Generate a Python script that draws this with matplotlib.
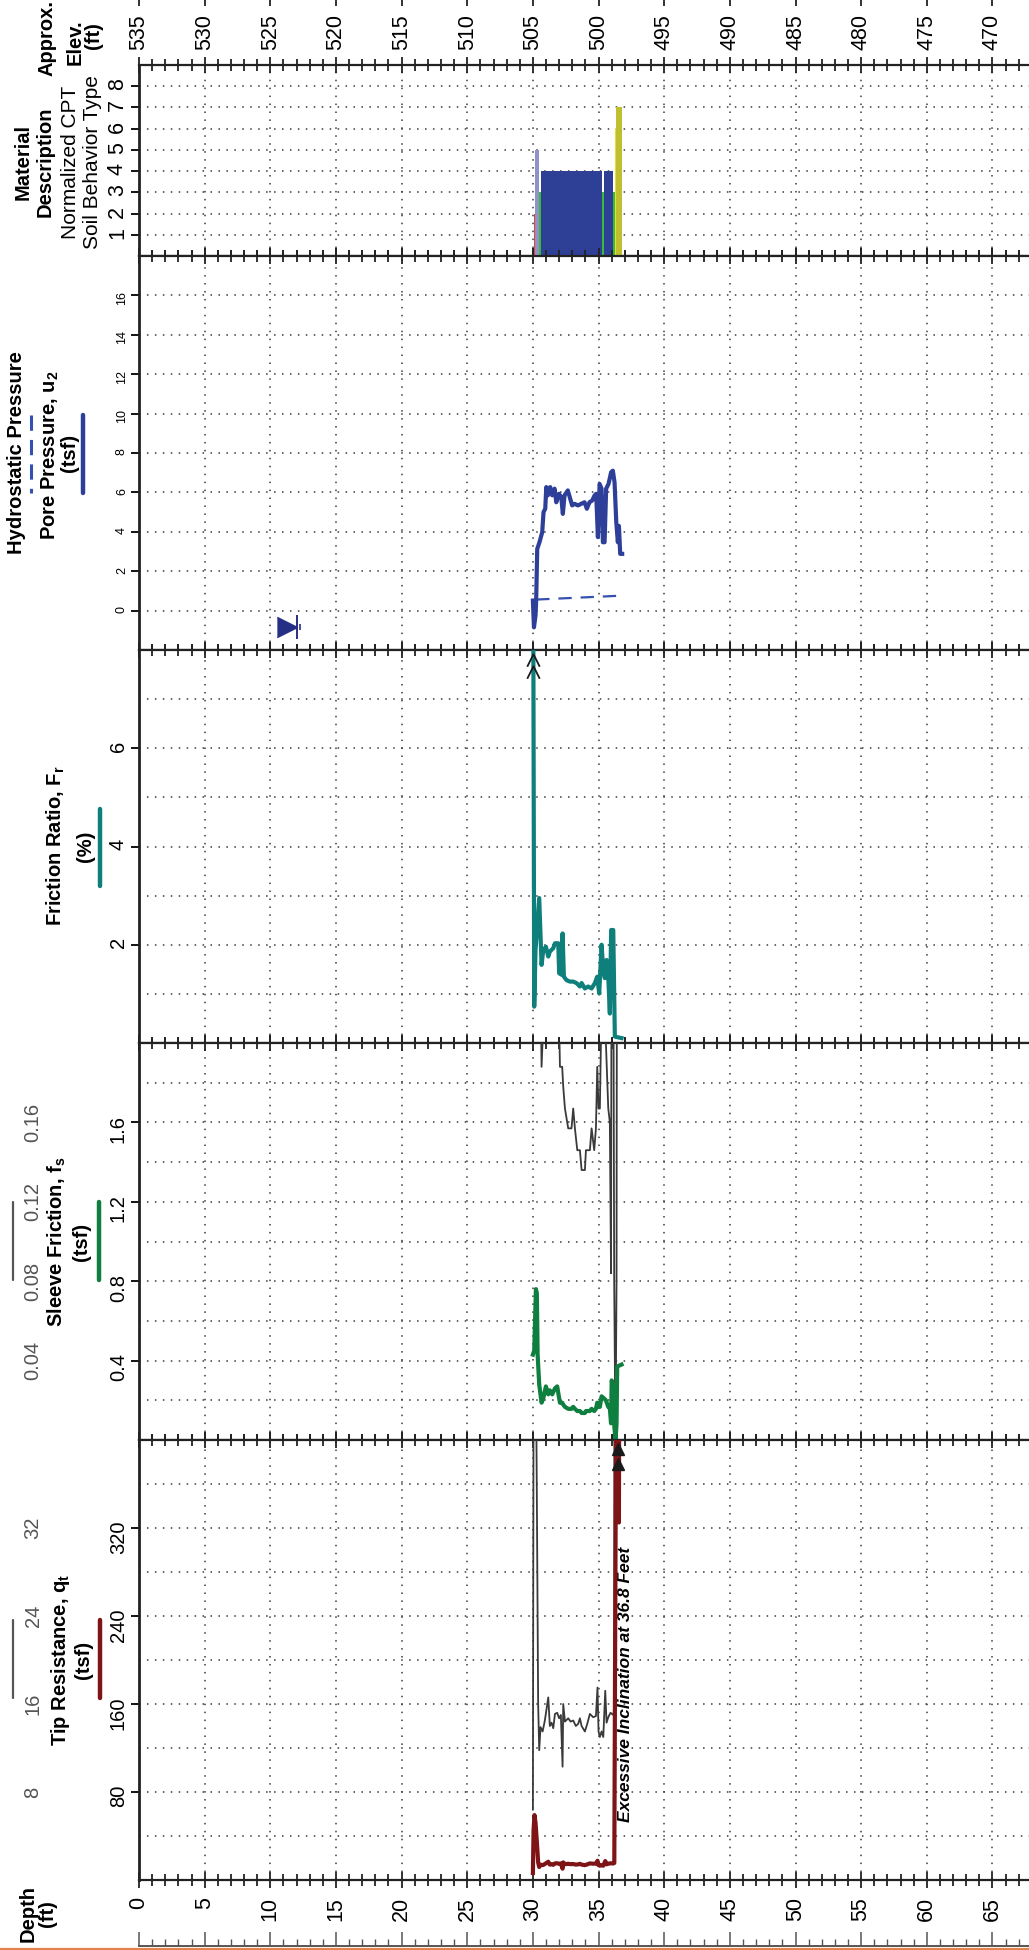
import matplotlib
matplotlib.use("Agg")
import matplotlib.pyplot as plt
from matplotlib.lines import Line2D
from matplotlib.ticker import MultipleLocator, FixedLocator
import matplotlib.transforms as mtransforms

plt.rcParams['font.family'] = ['Liberation Sans', 'DejaVu Sans']
plt.rcParams['mathtext.fontset'] = 'custom'
plt.rcParams['mathtext.rm'] = 'Liberation Sans'
plt.rcParams['mathtext.bf'] = 'Liberation Sans:bold'
plt.rcParams['mathtext.it'] = 'Liberation Sans:italic'

# ---- CPT sounding data (depth in ft) ----
ground_elev = 535
elev_ticks = [535, 530, 525, 520, 515, 510, 505, 500, 495, 490, 485, 480, 475, 470]
depth_ticks = [0, 5, 10, 15, 20, 25, 30, 35, 40, 45, 50, 55, 60, 65]

tip_depth = [30.00, 30.05, 30.12, 30.20, 30.30, 30.40, 30.48, 30.58, 30.74, 30.91,
             31.17, 31.29, 31.42, 31.55, 31.68, 31.85, 32.00, 32.13, 32.26, 32.31,
             32.44, 32.69, 32.87, 33.07, 33.27, 33.45, 33.58, 33.71, 33.96, 34.14,
             34.34, 34.59, 34.80, 34.92, 35.00, 35.10, 35.23, 35.36, 35.51, 35.61,
             35.74, 35.91, 36.12, 36.20, 36.35, 36.52, 36.55, 36.58, 36.80]
tip_qt = [6.4, 45.0, 59.0, 52.0, 35.0, 16.0, 11.8, 13.9, 13.5, 14.5,
          16.6, 14.0, 14.3, 13.8, 15.1, 15.2, 14.7, 15.0, 10.3, 16.0,
          14.4, 14.7, 14.4, 14.5, 14.0, 14.2, 14.7, 14.0, 13.5, 14.2,
          15.1, 14.8, 14.9, 17.5, 13.5, 13.0, 13.5, 13.0, 17.2, 14.3,
          14.8, 15.2, 15.0, 15.5, 480.0, 480.0, 325.0, 480.0, 480.0]

fs_depth = [30.00, 30.10, 30.23, 30.30, 30.36, 30.48, 30.66, 30.79, 30.99, 31.17,
            31.29, 31.47, 31.68, 31.85, 32.00, 32.06, 32.23, 32.31, 32.44, 32.69,
            32.94, 33.07, 33.20, 33.38, 33.58, 33.71, 33.96, 34.04, 34.34, 34.47,
            34.67, 34.80, 34.90, 35.00, 35.10, 35.23, 35.41, 35.56, 35.74, 35.86,
            35.95, 36.00, 36.12, 36.19, 36.29, 36.37, 36.42, 36.75]
fs_val = [0.43, 0.45, 0.76, 0.74, 0.43, 0.28, 0.188, 0.21, 0.27, 0.23,
          0.25, 0.23, 0.26, 0.27, 0.21, 0.188, 0.188, 0.178, 0.167, 0.157,
          0.157, 0.167, 0.157, 0.146, 0.146, 0.136, 0.136, 0.146, 0.146, 0.157,
          0.146, 0.157, 0.188, 0.167, 0.167, 0.22, 0.21, 0.20, 0.167, 0.16,
          0.084, 0.30, 0.27, 0.08, 0.0, 0.08, 0.37, 0.38]

fr_depth = [30.00, 30.10, 30.20, 30.48, 30.66, 30.79, 30.99, 31.17, 31.29, 31.55,
            31.68, 31.93, 32.00, 32.18, 32.26, 32.36, 32.56, 32.82, 33.07, 33.32,
            33.58, 33.71, 33.96, 34.21, 34.47, 34.72, 34.90, 35.05, 35.23, 35.36,
            35.48, 35.61, 35.74, 35.86, 35.96, 36.12, 36.24, 36.75]
fr_val = [12.0, 0.74, 1.9, 2.95, 1.59, 1.89, 1.96, 1.76, 1.86, 1.93,
          2.03, 2.03, 1.42, 1.39, 2.23, 1.35, 1.28, 1.25, 1.25, 1.22,
          1.15, 1.22, 1.11, 1.15, 1.11, 1.22, 1.35, 1.01, 2.0, 1.49,
          1.32, 1.69, 1.35, 0.6, 2.3, 2.3, 0.13, 0.1]

u2_depth = [30.00, 30.08, 30.20, 30.25, 30.33, 30.50, 30.71, 30.81, 30.94, 31.02,
            31.14, 31.32, 31.47, 31.65, 31.78, 31.98, 32.16, 32.28, 32.41, 32.66,
            32.84, 32.99, 33.17, 33.43, 33.68, 33.93, 34.11, 34.31, 34.52, 34.70,
            34.82, 34.95, 35.08, 35.23, 35.33, 35.46, 35.58, 35.76, 35.96, 36.09,
            36.22, 36.35, 36.47, 36.55, 36.65, 36.80]
u2_val = [0.51, -0.85, -0.25, 0.55, 3.13, 3.47, 3.98, 5.0, 5.17, 6.27,
          5.85, 6.27, 5.85, 6.19, 5.5, 5.93, 5.76, 4.91, 5.85, 6.1,
          5.68, 5.34, 5.42, 5.34, 5.42, 5.5, 5.17, 5.5, 5.59, 5.85,
          5.93, 3.73, 6.43, 6.19, 3.47, 3.47, 6.19, 6.43, 7.03, 7.1,
          6.5, 4.49, 3.47, 4.3, 2.88, 2.88]

hydro_depth = [30.25, 36.80]
hydro_val = [0.56, 0.76]
water_depth = 12.0
water_mark_y = -0.85

# soil behaviour type intervals: top, bottom, zone
sbt_top = [30.05, 30.14, 30.46, 30.50, 30.60, 32.27, 32.33, 35.25, 35.42, 36.12, 36.22, 36.30]
sbt_bot = [30.14, 30.46, 30.50, 30.58, 32.27, 32.33, 35.25, 35.38, 36.12, 36.22, 36.30, 36.78]
sbt_zone = [2, 5, 4, 3, 4, 3, 4, 3, 4, 3, 6, 7]
sbt_colors = {2: '#e8412c', 3: '#3cb93c', 4: '#2e3f96', 5: '#8d93c9', 6: '#e3e32a', 7: '#bfbf30'}

# ---- layout helpers (pixel based) ----
W, H = 1029, 1950
X0, X1 = 139, 1029
PX_PER_FT = 13.13
DMAX = (X1 - X0) / PX_PER_FT

fig = plt.figure(figsize=(W / 100, H / 100), dpi=100)


def box(x0, y0, x1, y1):
    return [x0 / W, 1 - y1 / H, (x1 - x0) / W, (y1 - y0) / H]


def ftext(x, y, s, **kw):
    kw.setdefault('rotation', 90)
    kw.setdefault('ha', 'center')
    kw.setdefault('va', 'center')
    fig.text(x / W, 1 - y / H, s, **kw)


def vline(x, y0, y1, color, **kw):
    fig.add_artist(Line2D([x / W, x / W], [1 - y0 / H, 1 - y1 / H], color=color,
                          solid_capstyle='round', **kw))


DOT = (0, (1, 4.2))
GRID_C = '#3a3a3a'


def panel(top, bot, ylim, major, minor, labelsize=14.5):
    ax = fig.add_axes(box(X0, top, X1, bot))
    ax.set_xlim(0, DMAX)
    ax.set_ylim(*ylim)
    ax.xaxis.set_major_locator(MultipleLocator(5))
    ax.xaxis.set_minor_locator(MultipleLocator(1))
    ax.yaxis.set_major_locator(FixedLocator(major))
    ax.yaxis.set_minor_locator(FixedLocator(minor))
    ax.set_axisbelow(True)
    ax.grid(axis='x', which='major', ls=DOT, color=GRID_C, lw=1.1)
    ax.grid(axis='y', which='both', ls=DOT, color=GRID_C, lw=1.1)
    ax.spines['right'].set_visible(False)
    for s in ('left', 'top', 'bottom'):
        ax.spines[s].set_linewidth(1.6)
        ax.spines[s].set_color('#222222')
    ax.spines['left'].set_linewidth(2.0)
    ax.tick_params(axis='x', which='both', direction='inout', top=True, bottom=True,
                   labelbottom=False, width=1.3, color='#222222')
    ax.tick_params(axis='x', which='major', length=11)
    ax.tick_params(axis='x', which='minor', length=9)
    ax.tick_params(axis='y', which='major', direction='out', length=6, width=1.3,
                   labelsize=labelsize, labelrotation=90, pad=2)
    ax.tick_params(axis='y', which='minor', length=0)
    return ax


# ---- panels ----
ax_sbt = panel(65, 256, (0, 9), [1, 2, 3, 4, 5, 6, 7, 8], [], labelsize=15.5)
ax_u = panel(256, 650, (-2, 18), [0, 2, 4, 6, 8, 10, 12, 14, 16], [], labelsize=9)
ax_fr = panel(650, 1043, (0, 8), [2, 4, 6], [1, 3, 5, 7])
ax_fs = panel(1043, 1440, (0, 2.0), [0.4, 0.8, 1.2, 1.6], [0.2, 0.6, 1.0, 1.4, 1.8])
ax_qt = panel(1440, 1880, (0, 400), [80, 160, 240, 320], [40, 120, 200, 280, 360])

ax_fs.yaxis.set_major_formatter(plt.FuncFormatter(lambda v, p: f"{v:.1f}"))

# soil behaviour type bars
ax_sbt.bar(sbt_top, sbt_zone, width=[b - t for t, b in zip(sbt_top, sbt_bot)],
           align='edge', color=[sbt_colors[z] for z in sbt_zone], linewidth=0, zorder=3)

# pore pressure
ax_u.plot(hydro_depth, hydro_val, color='#3550b0', lw=1.6, ls=(0, (6, 4)), zorder=3)
ax_u.plot(u2_depth, u2_val, color='#2e3f9a', lw=3.0, zorder=4, solid_joinstyle='round')
ax_u.plot([water_depth], [water_mark_y], marker=[(-1, 0.5), (0, 0), (-1, -0.5)],
          markersize=29, color='#262f86', zorder=5, ls='none')
ax_u.plot([water_depth], [water_mark_y], marker='|', markersize=17, mew=1.4,
          color='#262f86', ls='none', zorder=5)
ax_u.plot([water_depth + 0.3], [water_mark_y], marker='|', markersize=5, mew=1.2,
          color='#262f86', ls='none', zorder=5)

# friction ratio
ax_fr.plot(fr_depth, fr_val, color='#0f7f7c', lw=3.0, zorder=4, solid_joinstyle='round')
ax_fr.plot([fr_depth[0]] * 2, [7.8, 7.55], marker=[(-1, -1), (0, 1), (1, -1)],
           markersize=9, mfc='none', mec='#1a1a1a', mew=1.3, ls='none', zorder=5)

# sleeve friction with 10x expanded trace
fs_x10 = [v * 10 for v in fs_val]
ax_fs.plot(fs_depth, fs_x10, color='#3a3a3a', lw=1.3, zorder=3)
ax_fs.plot(fs_depth, fs_val, color='#0e7f3e', lw=3.0, zorder=4, solid_joinstyle='round')

# tip resistance with 10x expanded trace
qt_x10 = [v * 10 for v in tip_qt]
ax_qt.plot(tip_depth, qt_x10, color='#3a3a3a', lw=1.3, zorder=3)
ax_qt.plot(tip_depth, tip_qt, color='#7f1416', lw=3.0, zorder=4, solid_joinstyle='round')
ax_qt.plot([36.45] * 2, [392, 378], marker='^', markersize=9, color='#1a1a1a',
           ls='none', zorder=5)
ax_qt.text(37.05, 178, 'Excessive Inclination at 36.8 Feet', rotation=90,
           ha='center', va='center', fontsize=12.5, fontweight='bold', fontstyle='italic')

# depth labels along bottom
ax_qt.set_xticks(depth_ticks)
ax_qt.set_xticklabels([str(d) for d in depth_ticks])
ax_qt.tick_params(axis='x', which='major', labelbottom=True, labelsize=15.5,
                  labelrotation=90, pad=7)

# elevation ruler along top
ax_el = fig.add_axes(box(X0, 0, X1, 6))
ax_el.set_xlim(ground_elev, ground_elev - DMAX)
ax_el.set_ylim(0, 1)
ax_el.set_xticks(elev_ticks)
ax_el.set_xticklabels([str(e) for e in elev_ticks])
ax_el.set_yticks([])
for s in ax_el.spines.values():
    s.set_visible(False)
ax_el.tick_params(axis='x', direction='in', length=6, width=1.3, color='#222222',
                  labelsize=15.5, labelrotation=90, pad=6)
ax_el.patch.set_alpha(0)

# depth ruler at the foot
ax_r = fig.add_axes(box(X0, 1930, X1, 1946))
ax_r.set_xlim(0, DMAX)
ax_r.set_ylim(0, 1)
ax_r.xaxis.set_major_locator(MultipleLocator(5))
ax_r.xaxis.set_minor_locator(MultipleLocator(1))
ax_r.set_yticks([])
for s in ('left', 'right', 'top'):
    ax_r.spines[s].set_visible(False)
ax_r.spines['bottom'].set_color('#555555')
ax_r.spines['bottom'].set_linewidth(1.4)
ax_r.tick_params(axis='x', which='major', direction='in', length=10, width=1.1,
                 color='#555555', labelbottom=False)
ax_r.tick_params(axis='x', which='minor', direction='in', length=5, width=1.0,
                 color='#555555')
ax_r.patch.set_alpha(0)
fig.add_artist(Line2D([0, 1], [1 - 1948.8 / H] * 2, color='#e8804a', lw=1.6))

# ---- column headings ----
HB = dict(fontsize=14.5, fontweight='bold')
HN = dict(fontsize=15)
ftext(47, 38, 'Approx.', **HB)
ftext(75, 42, 'Elev.', **HB)
ftext(93, 36, '(ft)', **HB)

ftext(23, 162, 'Material', **HB)
ftext(45, 162, 'Description', **HB)
ftext(70, 162, 'Normalized CPT', **HN)
ftext(93, 162, 'Soil Behavior Type', **HN)

ftext(17, 453, 'Hydrostatic Pressure', **HB)
ftext(50, 455, r'Pore Pressure, $\mathbf{u}_\mathbf{2}$', **HB)
ftext(69, 453, '(tsf)', **HB)
vline(31, 415, 493, '#3550b0', lw=2.2, ls=(0, (5, 3)))
vline(83, 415, 493, '#2e3f9a', lw=3.2)

ftext(56, 846, r'Friction Ratio, $\mathbf{F}_\mathbf{r}$', **HB)
ftext(85, 846, '(%)', **HB)
vline(100, 809, 886, '#0f7f7c', lw=3.2)

ftext(57, 1242, r'Sleeve Friction, $\mathbf{f}_\mathbf{s}$', **HB)
ftext(81, 1242, '(tsf)', **HB)
vline(13, 1202, 1280, '#555555', lw=1.6)
vline(99, 1202, 1280, '#0e7f3e', lw=3.2)

ftext(60, 1660, r'Tip Resistance, $\mathbf{q}_\mathbf{t}$', **HB)
ftext(84, 1660, '(tsf)', **HB)
vline(13, 1620, 1698, '#555555', lw=1.6)
vline(100, 1620, 1698, '#7f1416', lw=3.2)

ftext(28, 1914, 'Depth', **HB)
ftext(48, 1914, '(ft)', **HB)

# secondary (x10) scale labels in grey
for ax, ticks, fmt in ((ax_fs, [0.4, 0.8, 1.2, 1.6], lambda v: f"{v / 10:.2f}"),
                       (ax_qt, [80, 160, 240, 320], lambda v: f"{v / 10:.0f}")):
    tr = mtransforms.blended_transform_factory(fig.transFigure, ax.transData)
    for t in ticks:
        ax.text(33 / W, t, fmt(t), transform=tr, rotation=90, ha='center', va='center',
                fontsize=14.5, color='#555555')

fig.savefig('out.png', dpi=100)
